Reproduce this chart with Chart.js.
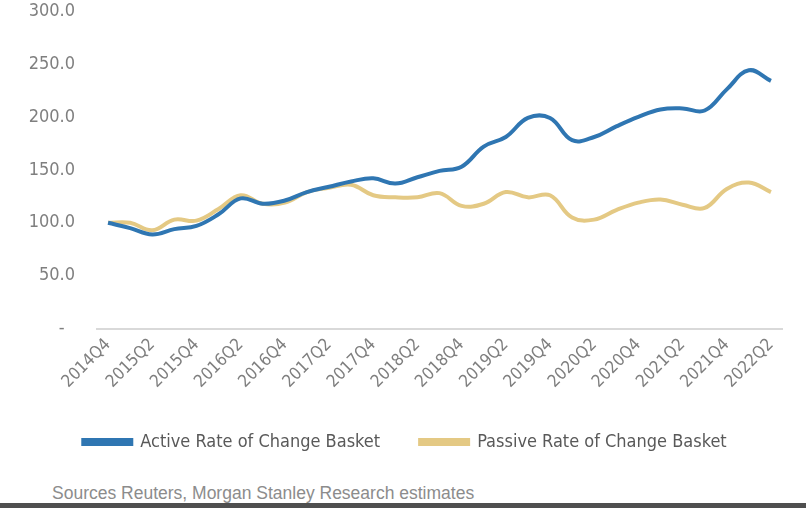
<!DOCTYPE html>
<html>
<head>
<meta charset="utf-8">
<script src="https://cdn.jsdelivr.net/npm/chart.js@4"></script>
<style>
  html, body { margin: 0; padding: 0; background: #fff; }
  body { width: 806px; height: 508px; position: relative; overflow: hidden; }
  #wrap { position: absolute; left: 0; top: 0; width: 806px; height: 461px; }
  #source { position: absolute; left: 52px; top: 483px; font-family: "Liberation Sans", Arial, sans-serif;
            font-size: 17.5px; color: #8c8c8c; }
  #bar { position: absolute; left: 0; top: 503px; width: 806px; height: 5px; background: #4f4f4f; }
</style>
</head>
<body>
<div id="wrap"><canvas id="chart"></canvas></div>
<div id="source">Sources Reuters, Morgan Stanley Research estimates</div>
<div id="bar"></div>
<script>
// quarters 2014Q4 .. 2022Q2
const quarters = [
    '2014Q4', '2015Q1', '2015Q2', '2015Q3', '2015Q4', '2016Q1', '2016Q2', '2016Q3',
    '2016Q4', '2017Q1', '2017Q2', '2017Q3', '2017Q4', '2018Q1', '2018Q2', '2018Q3',
    '2018Q4', '2019Q1', '2019Q2', '2019Q3', '2019Q4', '2020Q1', '2020Q2', '2020Q3',
    '2020Q4', '2021Q1', '2021Q2', '2021Q3', '2021Q4', '2022Q1', '2022Q2'
];

const activeBasket = [
    100, 95, 89, 94, 97, 108, 123, 118, 121, 129, 134, 139, 142, 137, 143, 149,
    153, 172, 181, 199, 199, 178, 181, 191, 200, 207, 208, 206, 226, 244, 234
];

const passiveBasket = [
    100, 100, 93, 103, 102, 113, 126, 118, 119, 129, 133, 136, 126, 124, 124, 128,
    116, 118, 129, 124, 126, 105, 103, 112, 119, 122, 117, 114, 132, 138, 129
];

const yTicks = [0, 50, 100, 150, 200, 250, 300];

const labelFont = '"Liberation Sans Narrow", "DejaVu Sans Condensed", sans-serif';

document.addEventListener('DOMContentLoaded', () => {
    const ctx = document.getElementById('chart').getContext('2d');

    new Chart(ctx, {
        type: 'line',
        data: {
            labels: quarters,
            datasets: [{
                label: 'Active Rate of Change Basket',
                data: activeBasket,
                borderColor: '#2f76b2',
                backgroundColor: '#2f76b2',
                borderWidth: 4,
                pointRadius: 0,
                tension: 0.4
            }, {
                label: 'Passive Rate of Change Basket',
                data: passiveBasket,
                borderColor: '#e4c984',
                backgroundColor: '#e4c984',
                borderWidth: 4,
                pointRadius: 0,
                tension: 0.4
            }]
        },
        options: {
            responsive: true,
            maintainAspectRatio: false,
            animation: false,
            layout: { padding: { top: 11, right: 24, left: 28, bottom: 0 } },
            scales: {
                x: {
                    offset: true,
                    grid: { display: false, drawTicks: false },
                    border: { color: '#d9d9d9', width: 2 },
                    afterFit: axis => { axis.height = axis.height - 5; },
                    ticks: {
                        autoSkip: false,
                        maxRotation: 45,
                        minRotation: 45,
                        padding: 6,
                        color: '#7f7f7f',
                        font: { family: labelFont, size: 17 },
                        callback: function(value, index) {
                            return index % 2 === 0 ? quarters[index] : '';
                        }
                    }
                },
                y: {
                    min: 0,
                    max: 300,
                    grid: { display: false, drawTicks: false },
                    border: { display: false },
                    afterBuildTicks: axis => { axis.ticks = yTicks.map(v => ({ value: v })); },
                    afterFit: axis => {
                        axis.width = 69;
                        axis.paddingTop = 0;
                        axis.paddingBottom = 0;
                    },
                    ticks: {
                        padding: 22,
                        color: '#7f7f7f',
                        font: { family: labelFont, size: 18 },
                        callback: v => v === 0 ? '-  ' : v.toFixed(1)
                    }
                }
            },
            plugins: {
                legend: {
                    position: 'bottom',
                    labels: {
                        boxWidth: 48,
                        boxHeight: 4,
                        padding: 40,
                        color: '#595959',
                        font: { family: labelFont, size: 18 }
                    }
                },
                tooltip: { enabled: false }
            }
        }
    });
});
</script>
</body>
</html>
